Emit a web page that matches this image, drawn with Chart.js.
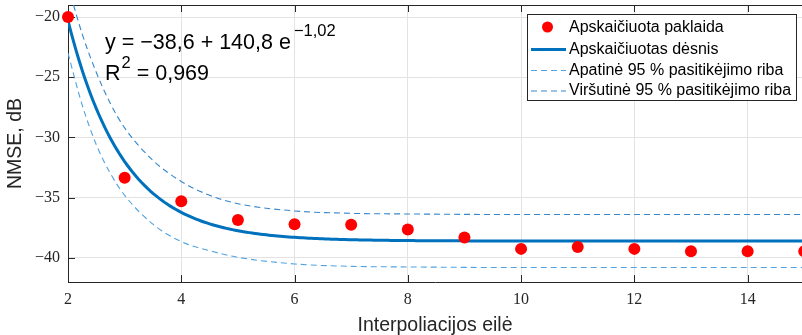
<!DOCTYPE html>
<html>
<head>
<meta charset="utf-8">
<script src="https://cdn.jsdelivr.net/npm/chart.js@4/dist/chart.umd.min.js"></script>
<style>
  html, body { margin: 0; padding: 0; background: #ffffff; }
  canvas { display: block; }
</style>
</head>
<body>
<canvas id="c" width="802" height="335"></canvas>
<script>
// Computed error for each interpolation order
const orders = [2, 3, 4, 5, 6, 7, 8, 9, 10, 11, 12, 13, 14, 15];
const nmseDb = [-20.0, -33.35, -35.3, -36.85, -37.2, -37.25, -37.65, -38.3, -39.25, -39.1, -39.25, -39.45, -39.45, -39.45];

// Fitted law y = a + b * exp(c * x) and its goodness of fit
const fitA = -38.6;
const fitB = 140.8;
const fitC = -1.02;
const fitR2 = 0.969;

// 95 % confidence bounds of the fit
const bandX = [2, 2.25, 2.5, 2.75, 3, 3.5, 4, 4.5, 5, 6, 7, 8, 10, 12, 15];
const upperBand = [-17.4, -21.4, -24.6, -27.2, -29.2, -31.9, -33.65, -34.8, -35.5, -36.1, -36.3, -36.35, -36.4, -36.4, -36.4];
const lowerBand = [-23.0, -27.3, -30.6, -33.0, -34.8, -37.2, -38.65, -39.4, -39.95, -40.5, -40.7, -40.75, -40.8, -40.8, -40.8];

// Axis ticks and texts
const xTickValues = [2, 4, 6, 8, 10, 12, 14];
const yTickValues = [-40, -35, -30, -25, -20];
const seriesLabels = [
  'Apskaičiuota paklaida',
  'Apskaičiuotas dėsnis',
  'Apatinė 95 % pasitikėjimo riba',
  'Viršutinė 95 % pasitikėjimo riba'
];
const xTitle = 'Interpoliacijos eilė';
const yTitle = 'NMSE, dB';

const fmt = (v) => String(v).replace('.', ',').replace('-', '\u2212');

// Curve of the fitted law, evaluated along the order axis
const fitPoints = [];
for (let i = 0; i <= 260; i++) {
  const x = 2 + i * 0.05;
  fitPoints.push({ x: x, y: fitA + fitB * Math.exp(fitC * x) });
}

const toXY = (xs, ys) => xs.map((x, i) => ({ x: x, y: ys[i] }));

const AXIS_COLOR = '#262626';
const SANS = '"Liberation Sans", Arial, Helvetica, sans-serif';
const SERIF = '"Liberation Serif", "Times New Roman", serif';

// Box frame with inward ticks
const framePlugin = {
  id: 'frame',
  beforeDatasetsDraw(chart) {
    const { ctx, chartArea: a, scales: { x, y } } = chart;
    const t = 7;
    ctx.save();
    ctx.strokeStyle = AXIS_COLOR;
    ctx.lineWidth = 1;
    ctx.beginPath();
    ctx.moveTo(a.left, a.top + 0.5);
    ctx.lineTo(a.right, a.top + 0.5);
    xTickValues.forEach(v => {
      const px = Math.round(x.getPixelForValue(v)) + 0.5;
      ctx.moveTo(px, a.bottom);
      ctx.lineTo(px, a.bottom - t);
      ctx.moveTo(px, a.top);
      ctx.lineTo(px, a.top + t);
    });
    yTickValues.forEach(v => {
      const py = Math.round(y.getPixelForValue(v)) + 0.5;
      ctx.moveTo(a.left, py);
      ctx.lineTo(a.left + t, py);
    });
    ctx.stroke();
    ctx.restore();
  }
};

// Fit equation and R^2 text
const equationPlugin = {
  id: 'equation',
  afterDatasetsDraw(chart) {
    const ctx = chart.ctx;
    const big = '21.5px ' + SANS;
    const small = '16.5px ' + SANS;
    ctx.save();
    ctx.fillStyle = '#000000';
    ctx.textBaseline = 'alphabetic';
    ctx.textAlign = 'left';

    let x = 105;
    ctx.font = big;
    const line1 = 'y = ' + fmt(fitA) + ' + ' + fmt(fitB) + ' e';
    ctx.fillText(line1, x, 48.5);
    x += ctx.measureText(line1).width + 3;
    ctx.font = small;
    ctx.fillText(fmt(fitC), x, 35.5);

    x = 105;
    ctx.font = big;
    ctx.fillText('R', x, 80);
    x += ctx.measureText('R').width + 1;
    ctx.font = small;
    ctx.fillText('2', x, 68);
    x += ctx.measureText('2').width;
    ctx.font = big;
    ctx.fillText(' = ' + fmt(fitR2), x, 80);
    ctx.restore();
  }
};

// Legend box in the upper right corner
const legendPlugin = {
  id: 'legendBox',
  afterDraw(chart) {
    const ctx = chart.ctx;
    const ds = chart.data.datasets;
    const bx = 527.5, by = 14.5, bw = 269, bh = 86;
    const rows = [28, 49.5, 70.5, 91];
    ctx.save();
    ctx.fillStyle = '#ffffff';
    ctx.fillRect(bx, by, bw, bh);
    ctx.strokeStyle = AXIS_COLOR;
    ctx.lineWidth = 1;
    ctx.strokeRect(bx, by, bw, bh);

    ds.forEach((d, i) => {
      const ry = rows[i];
      if (!d.showLine) {
        ctx.fillStyle = d.backgroundColor;
        ctx.beginPath();
        ctx.arc(547.5, ry - 1, 5.5, 0, Math.PI * 2);
        ctx.fill();
      } else {
        ctx.strokeStyle = d.borderColor;
        ctx.lineWidth = d.borderWidth;
        ctx.setLineDash(d.borderDash || []);
        ctx.beginPath();
        ctx.moveTo(531, ry);
        ctx.lineTo(566, ry);
        ctx.stroke();
        ctx.setLineDash([]);
      }
      ctx.fillStyle = '#000000';
      ctx.font = '16px ' + SANS;
      ctx.textBaseline = 'middle';
      ctx.fillText(d.label, 569, ry);
    });
    ctx.restore();
  }
};

new Chart(document.getElementById('c'), {
  type: 'scatter',
  data: {
    datasets: [
      {
        label: seriesLabels[0],
        data: toXY(orders, nmseDb),
        showLine: false,
        backgroundColor: '#ff0000',
        borderWidth: 0,
        pointRadius: 6,
        pointHoverRadius: 6,
        clip: false
      },
      {
        label: seriesLabels[1],
        data: fitPoints,
        showLine: true,
        borderColor: '#0072bd',
        borderWidth: 3,
        pointRadius: 0,
        tension: 0
      },
      {
        label: seriesLabels[2],
        data: toXY(bandX, lowerBand),
        showLine: true,
        borderColor: '#4fa3e2',
        borderWidth: 1.1,
        borderDash: [6, 4],
        pointRadius: 0,
        cubicInterpolationMode: 'monotone'
      },
      {
        label: seriesLabels[3],
        data: toXY(bandX, upperBand),
        showLine: true,
        borderColor: '#3586cc',
        borderWidth: 1.1,
        borderDash: [6, 4],
        pointRadius: 0,
        cubicInterpolationMode: 'monotone'
      }
    ]
  },
  options: {
    responsive: false,
    devicePixelRatio: 1,
    animation: false,
    events: [],
    layout: { autoPadding: false, padding: { top: 5, left: 0, right: 0, bottom: 0 } },
    plugins: {
      legend: { display: false },
      tooltip: { enabled: false }
    },
    scales: {
      x: {
        type: 'linear',
        min: 2,
        max: 14.96,
        afterBuildTicks(scale) { scale.ticks = xTickValues.map(v => ({ value: v })); },
        afterFit(scale) {
          scale.height = 53;
          scale.paddingLeft = 0; scale.paddingRight = 0;
        },
        grid: { color: '#e3e3e3', lineWidth: 1, drawTicks: false },
        border: { display: true, color: AXIS_COLOR, width: 1 },
        ticks: {
          padding: 8,
          color: AXIS_COLOR,
          font: { family: SERIF, size: 16 },
          maxRotation: 0,
          autoSkip: false,
          callback: (v) => fmt(v)
        },
        title: {
          display: true,
          text: xTitle,
          color: '#262626',
          font: { family: SANS, size: 19.5, lineHeight: 1 },
          padding: { top: 0, bottom: 0 }
        }
      },
      y: {
        type: 'linear',
        min: -42,
        max: -19,
        afterBuildTicks(scale) { scale.ticks = yTickValues.map(v => ({ value: v })); },
        afterFit(scale) {
          scale.width = 68;
          scale.paddingTop = 0; scale.paddingBottom = 0;
        },
        grid: { color: '#e3e3e3', lineWidth: 1, drawTicks: false },
        border: { display: true, color: AXIS_COLOR, width: 1 },
        ticks: {
          padding: 8,
          color: AXIS_COLOR,
          font: { family: SERIF, size: 16 },
          autoSkip: false,
          callback: (v) => fmt(v)
        },
        title: {
          display: true,
          text: yTitle,
          color: '#262626',
          font: { family: SANS, size: 19.5, lineHeight: 1 },
          padding: { top: 6, bottom: 0 }
        }
      }
    }
  },
  plugins: [framePlugin, equationPlugin, legendPlugin]
});
</script>
</body>
</html>
